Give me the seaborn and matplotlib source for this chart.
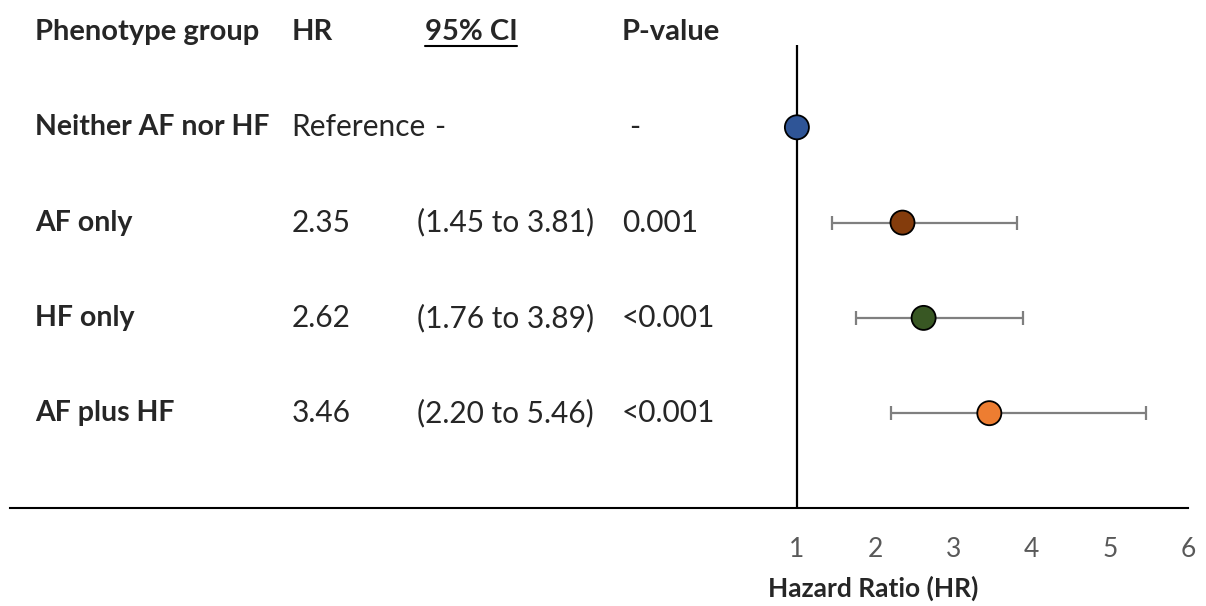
import numpy as np
import pandas as pd
import matplotlib
matplotlib.use("Agg")
import matplotlib.pyplot as plt
import seaborn as sns
from matplotlib.lines import Line2D

sns.set_theme(style="white")
plt.rcParams["font.family"] = ["Lato", "DejaVu Sans"]

# Forest plot data
groups = ["Neither AF nor HF", "AF only", "HF only", "AF plus HF"]
hr = [1.00, 2.35, 2.62, 3.46]
ci_low = [np.nan, 1.45, 1.76, 2.20]
ci_high = [np.nan, 3.81, 3.89, 5.46]
hr_text = ["Reference", "2.35", "2.62", "3.46"]
ci_text = ["-", "(1.45 to 3.81)", "(1.76 to 3.89)", "(2.20 to 5.46)"]
p_text = ["-", "0.001", "<0.001", "<0.001"]
headers = ["Phenotype group", "HR", "95% CI", "P-value"]
colors = ["#2F5597", "#843C0C", "#385723", "#ED7D31"]
x_ticks = [1, 2, 3, 4, 5, 6]

df = pd.DataFrame({"group": groups, "hr": hr, "lo": ci_low, "hi": ci_high})
df["row"] = np.arange(1, len(groups) + 1)

fig = plt.figure(figsize=(12.06, 6.06), dpi=100)
ax = fig.add_axes([10 / 1206, 98 / 606, 1178 / 1206, 508 / 606])

# reference line at HR = 1
ax.vlines(1, 0.14, 5.0, color="black", lw=1.6, zorder=1)

# confidence intervals
mask = df["lo"].notna()
ax.errorbar(df.loc[mask, "hr"], df.loc[mask, "row"],
            xerr=[df.loc[mask, "hr"] - df.loc[mask, "lo"],
                  df.loc[mask, "hi"] - df.loc[mask, "hr"]],
            fmt="none", ecolor="#7F7F7F", elinewidth=1.6, capsize=5,
            capthick=1.6, zorder=2)

# point estimates
sns.scatterplot(data=df, x="hr", y="row", hue="group", palette=colors,
                s=300, edgecolor="black", linewidth=1.3, legend=False,
                zorder=3, ax=ax)

ax.set_xlim(-9.06, 6.0)
ax.set_ylim(4.995, -0.336)
ax.set_xticks(x_ticks)
ax.set_xticklabels([str(t) for t in x_ticks])
ax.set_yticks([])
ax.set_xlabel("")
ax.set_ylabel("")
ax.tick_params(axis="x", length=0, pad=21, labelsize=19, labelcolor="#595959")
for side in ["top", "right", "left"]:
    ax.spines[side].set_visible(False)
ax.spines["bottom"].set_color("black")
ax.spines["bottom"].set_linewidth(1.5)

# table columns (x in data units of the HR axis)
col_label, col_hr, col_ci, col_p = -8.74, -5.46, -3.86, -1.24
fs_b = 21
fs = 21.5
hdr_y = 0.0
ax.text(col_label, hdr_y, headers[0], fontsize=fs_b, fontweight="bold", va="center", ha="left")
ax.text(col_hr, hdr_y, headers[1], fontsize=fs_b, fontweight="bold", va="center", ha="left")
ci_hdr = ax.text(-3.76, hdr_y, headers[2], fontsize=fs_b, fontweight="bold", va="center", ha="left")
ax.text(col_p, hdr_y, headers[3], fontsize=fs_b, fontweight="bold", va="center", ha="left")

for i, r in df.iterrows():
    y = r["row"]
    ax.text(col_label, y, r["group"], fontsize=20.5, fontweight="bold", va="center", ha="left")
    ax.text(col_hr, y, hr_text[i], fontsize=fs, va="center", ha="left")
    if ci_text[i] == "-":
        ax.text(-3.64, y, ci_text[i], fontsize=fs, va="center", ha="left")
        ax.text(-1.14, y, p_text[i], fontsize=fs, va="center", ha="left")
    else:
        ax.text(col_ci, y, ci_text[i], fontsize=fs, va="center", ha="left")
        ax.text(col_p, y, p_text[i], fontsize=fs, va="center", ha="left")

ax.text(1.97, 5.84, "Hazard Ratio (HR)", fontsize=19, fontweight="bold",
        va="center", ha="center")

# underline the CI header
fig.canvas.draw()
bb = ci_hdr.get_window_extent(renderer=fig.canvas.get_renderer())
inv = fig.transFigure.inverted()
(x0, y0), (x1, _) = inv.transform([(bb.x0, bb.y0 - 1), (bb.x1, bb.y0 - 1)])
fig.add_artist(Line2D([x0, x1], [y0, y0], color="black", lw=1.5,
                      transform=fig.transFigure))

fig.savefig("out.png", dpi=100, facecolor="white")
